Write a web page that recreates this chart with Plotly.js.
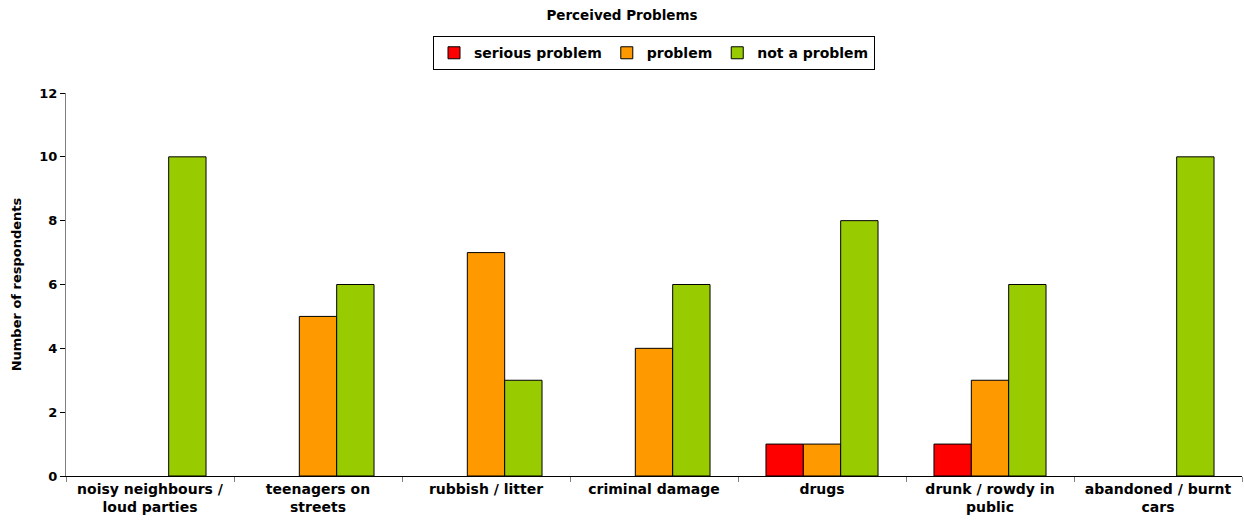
<!DOCTYPE html>
<html>
<head>
<meta charset="utf-8">
<script src="https://cdn.plot.ly/plotly-3.0.1.min.js"></script>
<style>html,body{margin:0;padding:0;background:#fff;}#chart{width:1244px;height:529px;}</style>
</head>
<body>
<div id="chart"></div>
<script>
const categories = [
  "noisy neighbours /<br>loud parties",
  "teenagers on<br>streets",
  "rubbish / litter",
  "criminal damage",
  "drugs",
  "drunk / rowdy in<br>public",
  "abandoned / burnt<br>cars"
];
const seriousProblem = [0, 0, 0, 0, 1, 1, 0];
const problem        = [0, 5, 7, 4, 1, 3, 0];
const notAProblem    = [10, 6, 3, 6, 8, 6, 10];
const yTicks = [0, 2, 4, 6, 8, 10, 12];

const font = "DejaVu Sans, Verdana, sans-serif";
function mk(name, y, color) {
  return {
    type: "bar", name: name, x: categories,
    // zero-height bars are not drawn in the reference
    y: y.map(v => v === 0 ? null : v),
    marker: {color: color, line: {color: "#000", width: 1}},
    hoverinfo: "x+y"
  };
}
const data = [
  mk("serious problem", seriousProblem, "#FF0000"),
  mk("problem", problem, "#FF9900"),
  mk("not a problem", notAProblem, "#99CC00")
];
const layout = {
  width: 1244, height: 529,
  margin: {l: 66, r: 2, t: 93, b: 53},
  paper_bgcolor: "#fff", plot_bgcolor: "#fff",
  font: {family: font, size: 13, color: "#000"},
  title: {text: "<b>Perceived Problems</b>", font: {family: font, size: 13.5, color: "#000"},
          x: 0.5, xanchor: "center", y: 0.972, yanchor: "middle"},
  barmode: "group", bargap: 0.333, bargroupgap: 0,
  showlegend: true,
  legend: {orientation: "h", x: 0.5, xanchor: "center", y: 1.104, yanchor: "middle",
           bordercolor: "#000", borderwidth: 1, bgcolor: "#fff",
           font: {family: font, size: 14, color: "#000", weight: "bold"},
           itemwidth: 30, tracegroupgap: 0, traceorder: "normal"},
  xaxis: {
    type: "category", showgrid: false, zeroline: false,
    showline: true, linecolor: "#000", linewidth: 1,
    ticks: "outside", tickson: "boundaries", ticklen: 5, tickcolor: "#808080",
    tickfont: {family: font, size: 14, color: "#000", weight: "bold"},
    tickangle: 0
  },
  yaxis: {
    range: [0, 12], tickvals: yTicks, ticktext: yTicks.map(String),
    showgrid: false, zeroline: false,
    showline: true, linecolor: "#808080", linewidth: 1,
    ticks: "outside", ticklen: 5, tickcolor: "#000",
    tickfont: {family: font, size: 13, color: "#000", weight: "bold"},
    title: {text: "<b>Number of respondents</b>", font: {family: font, size: 13, color: "#000"}, standoff: 14}
  }
};
Plotly.newPlot("chart", data, layout, {displayModeBar: false, staticPlot: true});
</script>
</body>
</html>
